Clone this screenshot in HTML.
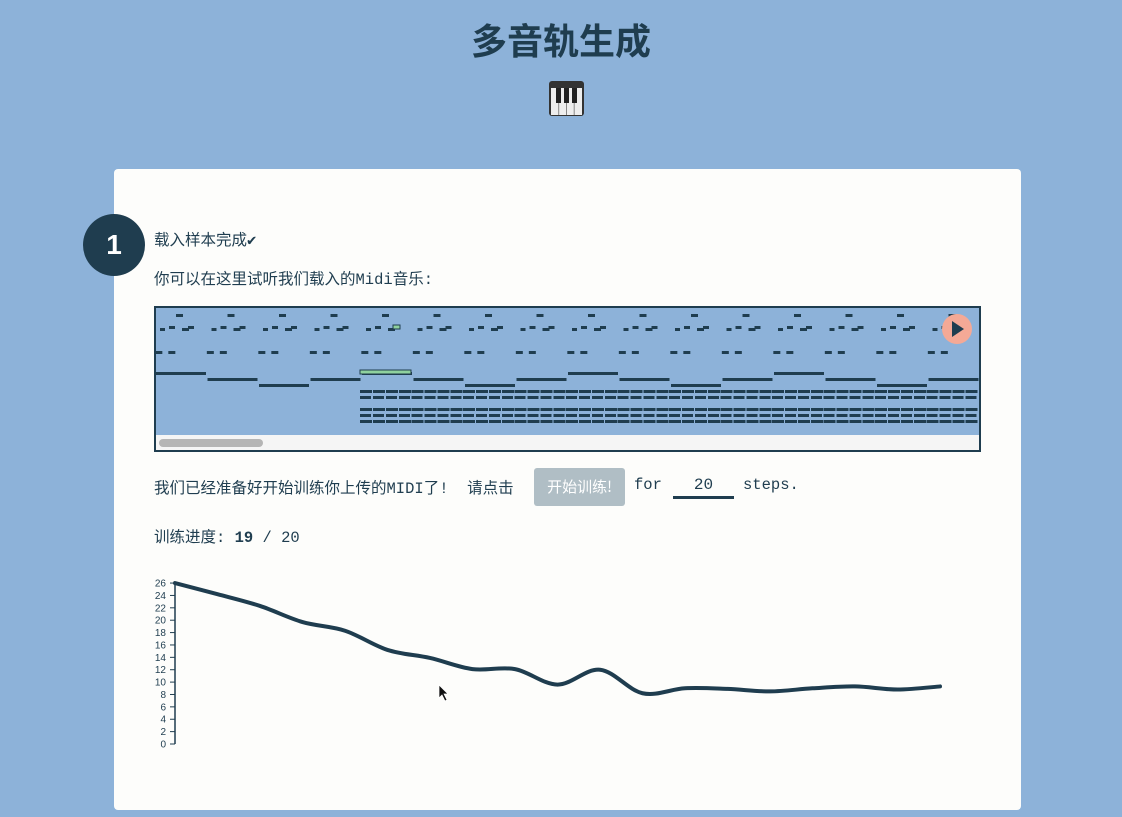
<!DOCTYPE html>
<html><head><meta charset="utf-8">
<style>
body{margin:0;width:1122px;height:817px;background:#8db2d9;font-family:"Liberation Mono","Noto Sans CJK SC",monospace;color:#1f3d4f;position:relative;overflow:hidden}
.abs{position:absolute}
#title{left:0;width:1122px;top:13px;text-align:center;font:bold 36px "Liberation Sans","Noto Sans CJK SC",sans-serif;color:#1f3d4f}
#card{left:114px;top:169px;width:907px;height:641px;background:#fdfdfb;border-radius:4px}
#circle{left:83px;top:214px;width:62px;height:62px;border-radius:50%;background:#1f3d4f;color:#fff;font:bold 28px "Liberation Sans",sans-serif;text-align:center;line-height:62px}
.t{font-size:15.5px;white-space:pre}
#btn{left:534px;top:468px;width:91px;height:38px;background:#b0bec5;border-radius:3px;color:#fff;font:15px "Noto Sans CJK SC",sans-serif;text-align:center;line-height:38px}
#inp{left:673px;top:476px;width:61px;height:20px;border-bottom:3px solid #1f3d4f;text-align:center;font-size:16px}
</style></head><body>
<div id="title" class="abs">多音轨生成</div>
<svg class="abs" style="left:548px;top:80px" width="37" height="37">
<rect x="1" y="1" width="35" height="35" rx="3" fill="#333"/><rect x="3" y="8" width="31" height="27" fill="#eee"/>
<line x1="10.7" y1="8" x2="10.7" y2="35" stroke="#888"/><line x1="18.5" y1="8" x2="18.5" y2="35" stroke="#888"/><line x1="26.2" y1="8" x2="26.2" y2="35" stroke="#888"/>
<rect x="8" y="8" width="5" height="15" fill="#222"/><rect x="16" y="8" width="5" height="15" fill="#222"/><rect x="24" y="8" width="5" height="15" fill="#222"/></svg>
<div id="card" class="abs"></div>
<div id="circle" class="abs">1</div>
<div class="abs t" style="left:154px;top:228px">载入样本完成✔</div>
<div class="abs t" style="left:154px;top:267px">你可以在这里试听我们载入的Midi音乐:</div>
<svg id="roll" class="abs" style="left:154px;top:306px" width="827" height="146">
<rect x="1" y="1" width="825" height="144" fill="#8db2d9" stroke="#1f3d4f" stroke-width="2"/>
<g id="notes"></g>
<rect x="2" y="129" width="823" height="15" fill="#f5f5f5"/>
<rect x="5" y="133" width="104" height="8" rx="4" fill="#b5b5b5"/>
<g><circle cx="803" cy="23" r="15" fill="#f4a996"/><path d="M798 15 L810 23 L798 31Z" fill="#1f3d4f"/></g>
</svg>
<div class="abs t" style="left:154px;top:476px">我们已经准备好开始训练你上传的MIDI了!  请点击</div>
<div id="btn" class="abs">开始训练!</div>
<div class="abs t" style="left:634px;top:476px">for</div>
<div id="inp" class="abs">20</div>
<div class="abs t" style="left:743px;top:476px">steps.</div>
<div class="abs t" style="left:154px;top:525px">训练进度: <b>19</b> / 20</div>
<svg id="chart" class="abs" style="left:0;top:0" width="1122" height="817"></svg>
<script>
const steps=[0,1,2,3,4,5,6,7,8,9,10,11,12,13,14,15,16,17,18];
const losses=[26,24.2,22.3,19.7,18.3,15.2,13.9,12.1,12.1,9.6,12,8.2,9,8.9,8.5,9,9.3,8.8,9.3];
const yTicks=[0,2,4,6,8,10,12,14,16,18,20,22,24,26];
const NS="http://www.w3.org/2000/svg";
const svg=document.getElementById('chart');
const x=i=>175+i*42.5, y=v=>744-v*6.19;
function mk(t,a,p){const e=document.createElementNS(NS,t);for(const k in a)e.setAttribute(k,a[k]);(p||svg).appendChild(e);return e;}
const ax=mk('line',{x1:175,y1:y(26),x2:175,y2:744,stroke:'#1f3d4f','stroke-width':1.5});


yTicks.forEach(v=>{
 const tk=mk('line',{x1:170,x2:175,y1:y(v),y2:y(v),stroke:'#1f3d4f'});
 
 
 const tx=mk('text',{x:166,y:y(v)+3.5,'text-anchor':'end','font-size':10,'font-family':'Liberation Sans, sans-serif',fill:'#1f3d4f'});
 tx.textContent=v;
 
 
});
const pts=steps.map((s,i)=>[x(s),y(losses[i])]);
let d='M'+pts[0][0]+' '+pts[0][1];
for(let i=0;i<pts.length-1;i++){
 const p0=pts[Math.max(0,i-1)],p1=pts[i],p2=pts[i+1],p3=pts[Math.min(pts.length-1,i+2)];
 d+=` C${p1[0]+(p2[0]-p0[0])/6} ${p1[1]+(p2[1]-p0[1])/6} ${p2[0]-(p3[0]-p1[0])/6} ${p2[1]-(p3[1]-p1[1])/6} ${p2[0]} ${p2[1]}`;
}
const ln=mk('path',{d:d,fill:'none',stroke:'#1f3d4f','stroke-width':4,'stroke-linecap':'round'});


const cur=mk('path',{d:'M439 685 L439 698 L442 695 L445 701 L447 700 L444 694 L448 694Z',fill:'#111',stroke:'#fff','stroke-width':0.7});


const patternX=[22,6,15,28,34,10,21,60,7];
const patternY=[8,22,20,22,20,47,47,47,47];
const patternW=[7,5,6,7,6,7,7,7,7];
const g=document.getElementById('notes');
for(let k=0;k<16;k++){
 for(let j=0;j<5;j++){
  const r=mk('rect',{x:k*51.5+patternX[j],y:patternY[j],width:patternW[j],height:3,fill:'#1f3d4f'},g);
  
  
 }
 [3,-10].forEach(o=>{const r=mk('rect',{x:k*51.5+o+51.5*0.22,y:45,width:7,height:3,fill:'#1f3d4f'},g);
  
  });
 const by=[66,72,78,72][k%4];
 const r=mk('rect',{x:2+k*51.5,y:by,width:50,height:3,fill:'#1f3d4f'},g);
 
 
 if(k>=4){
  [84,90,102,108,114].forEach((yy,q)=>{
   for(let m=0;m<4;m++){const rr=mk('rect',{x:k*51.5+m*13,y:yy,width:(q%2?11:12),height:3,fill:'#1f3d4f'},g);
    
    }
  });
 }
}
const hl=mk('rect',{x:206,y:64,width:51,height:4,fill:'#8fd19e',stroke:'#1f3d4f'},g);


const hl2=mk('rect',{x:239,y:19,width:7,height:4,fill:'#8fd19e',stroke:'#1f3d4f'},g);


</script>
</body></html>
